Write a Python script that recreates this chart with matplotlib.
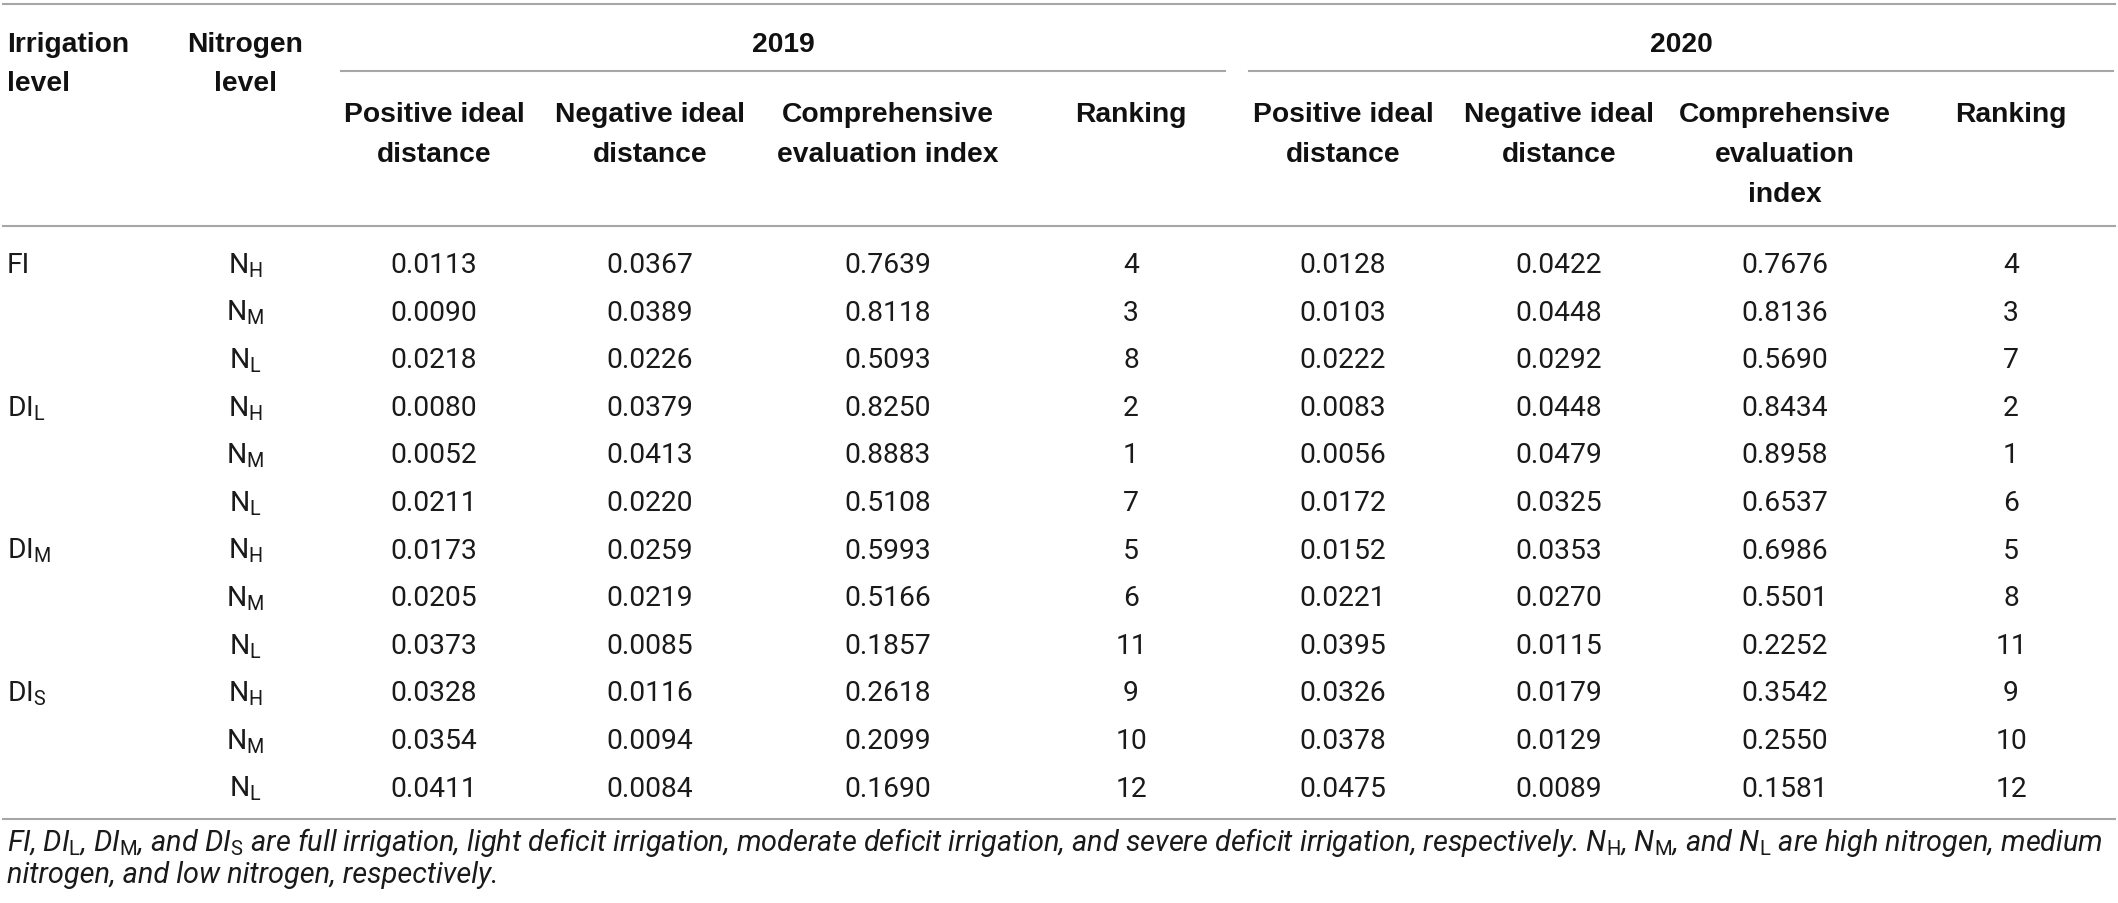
import matplotlib
matplotlib.use('Agg')
import matplotlib.pyplot as plt

# table content
irrigation = ['FI', r'DI$_\mathregular{L}$', r'DI$_\mathregular{M}$', r'DI$_\mathregular{S}$']
nitrogen = [r'N$_\mathregular{H}$', r'N$_\mathregular{M}$', r'N$_\mathregular{L}$'] * 4

pos_2019 = [0.0113, 0.0090, 0.0218, 0.0080, 0.0052, 0.0211, 0.0173, 0.0205, 0.0373, 0.0328, 0.0354, 0.0411]
neg_2019 = [0.0367, 0.0389, 0.0226, 0.0379, 0.0413, 0.0220, 0.0259, 0.0219, 0.0085, 0.0116, 0.0094, 0.0084]
cei_2019 = [0.7639, 0.8118, 0.5093, 0.8250, 0.8883, 0.5108, 0.5993, 0.5166, 0.1857, 0.2618, 0.2099, 0.1690]
rank_2019 = [4, 3, 8, 2, 1, 7, 5, 6, 11, 9, 10, 12]

pos_2020 = [0.0128, 0.0103, 0.0222, 0.0083, 0.0056, 0.0172, 0.0152, 0.0221, 0.0395, 0.0326, 0.0378, 0.0475]
neg_2020 = [0.0422, 0.0448, 0.0292, 0.0448, 0.0479, 0.0325, 0.0353, 0.0270, 0.0115, 0.0179, 0.0129, 0.0089]
cei_2020 = [0.7676, 0.8136, 0.5690, 0.8434, 0.8958, 0.6537, 0.6986, 0.5501, 0.2252, 0.3542, 0.2550, 0.1581]
rank_2020 = [4, 3, 7, 2, 1, 6, 5, 8, 11, 9, 10, 12]

years = ['2019', '2020']
sub_heads = [['Positive ideal', 'distance'], ['Negative ideal', 'distance'],
             ['Comprehensive', 'evaluation index'], ['Ranking']]
sub_heads_2020 = [['Positive ideal', 'distance'], ['Negative ideal', 'distance'],
                  ['Comprehensive', 'evaluation', 'index'], ['Ranking']]

footnote = [r'FI, DI$_\mathrm{L}$, DI$_\mathrm{M}$, and DI$_\mathrm{S}$ are full irrigation, '
            r'light deficit irrigation, moderate deficit irrigation, and severe deficit irrigation, '
            r'respectively. N$_\mathrm{H}$, N$_\mathrm{M}$, and N$_\mathrm{L}$ are high nitrogen, medium',
            'nitrogen, and low nitrogen, respectively.']

W, H = 2118, 904
TXT = '#111111'
RULE = '#a6a6a6'
HEAD = dict(family=['Liberation Sans', 'DejaVu Sans'], weight='bold', size=20.3, color=TXT)
BODY = dict(family=['Roboto', 'DejaVu Sans'], weight='normal', size=20.3, color='#1a1a1a')
NOTE = dict(family=['Roboto', 'DejaVu Sans'], weight='normal', style='italic', size=19.6, color='#1a1a1a')

plt.rcParams['mathtext.fontset'] = 'custom'
plt.rcParams['mathtext.rm'] = 'Roboto'

fig = plt.figure(figsize=(W / 100, H / 100), dpi=100)
ax = fig.add_axes([0, 0, 1, 1])
ax.set_xlim(0, W)
ax.set_ylim(H, 0)
ax.axis('off')

col_x = [434, 650, 888, 1131, 1343, 1559, 1785, 2011]

# rules
ax.plot([3, 2115], [5, 5], color=RULE, lw=1.5)
ax.plot([341, 1225], [72, 72], color=RULE, lw=1.5)
ax.plot([1249, 2113], [72, 72], color=RULE, lw=1.5)
ax.plot([3, 2115], [227, 227], color=RULE, lw=1.5)
ax.plot([3, 2115], [820, 820], color=RULE, lw=1.5)

# header
ax.text(7, 52, 'Irrigation', ha='left', va='baseline', **HEAD)
ax.text(7, 91, 'level', ha='left', va='baseline', **HEAD)
ax.text(245, 52, 'Nitrogen', ha='center', va='baseline', **HEAD)
ax.text(245, 91, 'level', ha='center', va='baseline', **HEAD)
ax.text((341 + 1225) / 2, 52, years[0], ha='center', va='baseline', **HEAD)
ax.text((1249 + 2113) / 2, 52, years[1], ha='center', va='baseline', **HEAD)
for k, lines in enumerate(sub_heads + sub_heads_2020):
    for j, s in enumerate(lines):
        ax.text(col_x[k], 122 + 40 * j, s, ha='center', va='baseline', **HEAD)

# body
columns = [pos_2019, neg_2019, cei_2019, rank_2019, pos_2020, neg_2020, cei_2020, rank_2020]
for i in range(12):
    y = 273 + 47.6 * i
    if i % 3 == 0:
        ax.text(7, y, irrigation[i // 3], ha='left', va='baseline', **BODY)
    ax.text(245, y, nitrogen[i], ha='center', va='baseline', **BODY)
    for k, col in enumerate(columns):
        v = col[i]
        s = str(v) if isinstance(v, int) else '%.4f' % v
        ax.text(col_x[k], y, s, ha='center', va='baseline', **BODY)

# footnote, first line stretched to the table width
n1 = ax.text(7, 851, footnote[0], ha='left', va='baseline', **NOTE)
n2 = ax.text(7, 883, footnote[1], ha='left', va='baseline', **NOTE)
fig.canvas.draw()
w = n1.get_window_extent().width
size = NOTE['size'] * (2110 - 7) / w
n1.set_fontsize(size)
n2.set_fontsize(size)

fig.savefig('out.png', dpi=100)
